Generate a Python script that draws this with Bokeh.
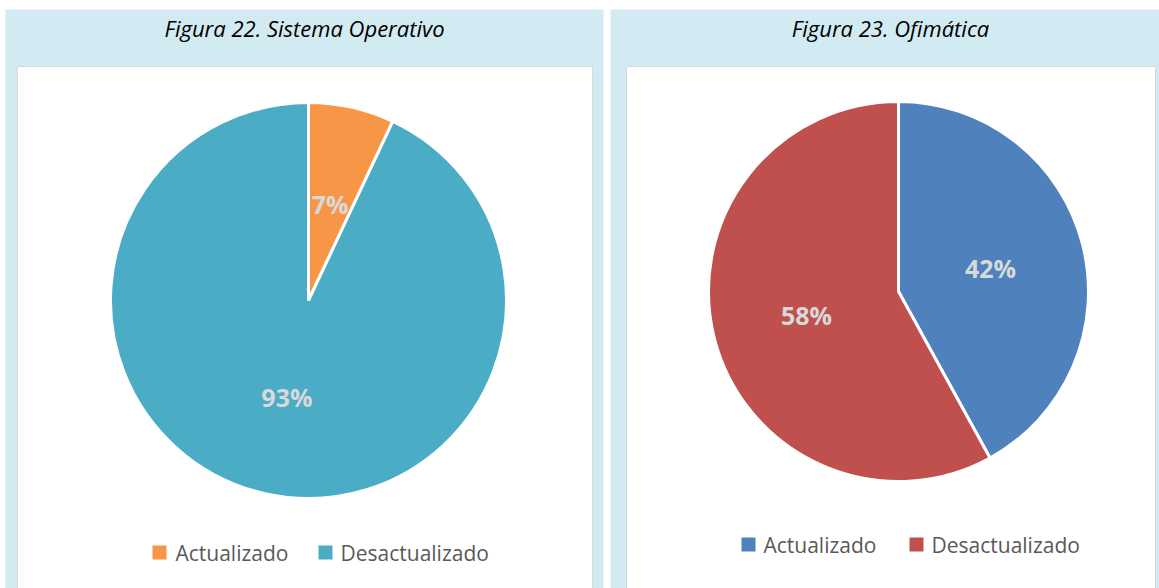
import numpy as np
from bokeh.plotting import figure
from bokeh.models import Range1d
from bokeh.core.properties import value
from bokeh.embed import file_html
from bokeh.resources import INLINE

# ---- data ----
titles = ["Figura 22. Sistema Operativo", "Figura 23. Ofimática"]
categories = ["Actualizado", "Desactualizado"]
so_values = [7, 93]
ofi_values = [42, 58]
so_colors = ["#F79646", "#4BACC6"]
ofi_colors = ["#4F81BD", "#C0504D"]

# ---- layout (image pixel coords) ----
W, H = 1159, 588


def yi(y):
    return H - y


p = figure(width=W, height=H, x_range=Range1d(0, W), y_range=Range1d(0, H),
           output_backend="svg", toolbar_location=None, min_border=0,
           x_axis_type=None, y_axis_type=None)
p.grid.visible = False
p.outline_line_color = None
p.background_fill_color = "white"
p.border_fill_color = "white"

panels = [
    dict(left=5, right=603, inner_l=17, inner_r=592, title_x=304,
         cx=308, cy=300, r=198, values=so_values, colors=so_colors,
         leg_y=552, leg_sq=[159, 325], leg_tx=[175, 340]),
    dict(left=610, right=1170, inner_l=626, inner_r=1155, title_x=890,
         cx=898, cy=291, r=190, values=ofi_values, colors=ofi_colors,
         leg_y=544, leg_sq=[748, 916], leg_tx=[763, 931]),
]

for i, pn in enumerate(panels):
    # background panel
    p.quad(left=pn["left"], right=pn["right"], top=yi(9), bottom=yi(600),
           fill_color="#D2EAF1", line_color=None)
    # inner white chart area
    p.quad(left=pn["inner_l"], right=pn["inner_r"], top=yi(66), bottom=yi(600),
           fill_color="white", line_color="#D9D9D9", line_width=1)
    # title
    p.text(x=[pn["title_x"]], y=[yi(27)], text=[titles[i]],
           text_font=value("Open Sans"), text_font_style="italic",
           text_font_size="22px", text_color="#000000",
           text_align="center", text_baseline="middle")

    vals = np.array(pn["values"], dtype=float)
    frac = vals / vals.sum()
    cum = np.concatenate([[0], np.cumsum(frac)])
    starts = np.pi / 2 - 2 * np.pi * cum[:-1]
    ends = np.pi / 2 - 2 * np.pi * cum[1:]
    cx, cy = pn["cx"], yi(pn["cy"])
    p.wedge(x=[cx] * len(vals), y=[cy] * len(vals), radius=pn["r"],
            start_angle=list(starts), end_angle=list(ends), direction="clock",
            fill_color=pn["colors"], line_color="white", line_width=3)

    mids = (starts + ends) / 2
    lr = 0.5 * pn["r"]
    labels = [f"{v:.0f}%" for v in vals / vals.sum() * 100]
    p.text(x=list(cx + lr * np.cos(mids)), y=list(cy + lr * np.sin(mids)),
           text=labels, text_font=value("Open Sans"), text_font_style="bold",
           text_font_size="25px", text_color="#D9D9D9",
           text_align="center", text_baseline="middle")

    # legend
    ly = yi(pn["leg_y"])
    p.rect(x=pn["leg_sq"], y=[ly] * len(categories), width=14, height=14,
           fill_color=pn["colors"], line_color=None)
    p.text(x=pn["leg_tx"], y=[ly] * len(categories), text=categories,
           text_font=value("Open Sans"), text_font_size="21px",
           text_color="#595959", text_align="left", text_baseline="middle")

open("out.html", "w").write(file_html(p, INLINE))
